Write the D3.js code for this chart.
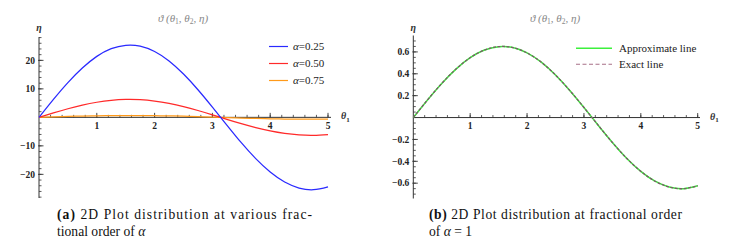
<!DOCTYPE html>
<html>
<head>
<meta charset="utf-8">
<script src="https://cdnjs.cloudflare.com/ajax/libs/d3/7.8.5/d3.min.js"></script>
<style>
  body { margin: 0; background: #fff; }
  svg { display: block; }
</style>
</head>
<body>
<div class="chart"></div>
<script>
var width = 740;
var height = 251;

/// Data
var theta = [0, 0.25, 0.5, 0.75, 1, 1.25, 1.5, 1.75, 2, 2.25, 2.5, 2.75, 3, 3.25, 3.5, 3.75, 4, 4.25, 4.5, 4.75, 5];
var alpha025 = [0, 6.3, 12.2, 17.3, 21.4, 24.1, 25.3, 25.0, 23.1, 19.8, 15.2, 9.7, 3.6, -2.7, -8.9, -14.5, -19.2, -22.7, -24.8, -25.4, -24.4];
var alpha050 = [0, 1.56, 3.02, 4.29, 5.30, 5.98, 6.28, 6.20, 5.73, 4.90, 3.77, 2.40, 0.89, -0.68, -2.21, -3.60, -4.77, -5.64, -6.16, -6.30, -6.04];
var alpha075 = [0, 0.16, 0.31, 0.44, 0.55, 0.62, 0.65, 0.64, 0.59, 0.51, 0.39, 0.25, 0.09, -0.07, -0.23, -0.37, -0.49, -0.58, -0.64, -0.65, -0.62];
var approx = [0, 0.161, 0.312, 0.443, 0.547, 0.617, 0.648, 0.640, 0.591, 0.506, 0.389, 0.248, 0.092, -0.070, -0.228, -0.372, -0.492, -0.582, -0.635, -0.650, -0.623];
var exact = [0, 0.161, 0.312, 0.443, 0.547, 0.617, 0.648, 0.640, 0.591, 0.506, 0.389, 0.248, 0.092, -0.070, -0.228, -0.372, -0.492, -0.582, -0.635, -0.650, -0.623];

var xTicks = [1, 2, 3, 4, 5];
var yTicksA = [-20, -10, 10, 20];
var yTicksB = [-0.6, -0.4, -0.2, 0.2, 0.4, 0.6];
var legendA = ['α=0.25', 'α=0.50', 'α=0.75'];
var legendB = ['Approximate line', 'Exact line'];

var blue = '#2a2aff';
var red = '#ff2a2a';
var orange = '#ff9a1a';
var green = '#3cf03c';
var mauve = '#a87088';
var dashCurve = '#7a5a68';
var axisColor = '#333';
var serif = '"Liberation Serif", "Times New Roman", serif';

var svg = d3.select('.chart')
  .append('svg')
  .attr('width', width)
  .attr('height', height);

/// Panels
var panelA = {
  x: d3.scaleLinear().domain([0, 5]).range([39, 328]),
  y: d3.scaleLinear().domain([-28.3, 28.2]).range([198, 37]),
  xEnd: 331,
  yTicks: yTicksA,
  yMinor: d3.range(-28, 28.01, 2),
  fmt: function(d){ return d < 0 ? '\u2212' + Math.abs(d) : d; },
  titleX: 183
};

var panelB = {
  x: d3.scaleLinear().domain([0, 5]).range([413.3, 697.7]),
  y: d3.scaleLinear().domain([-0.74, 0.75]).range([198.5, 35.5]),
  xEnd: 700,
  yTicks: yTicksB,
  yMinor: d3.range(-0.7, 0.701, 0.05),
  fmt: function(d){ return d < 0 ? '\u2212' + Math.abs(d).toFixed(1) : d.toFixed(1); },
  titleX: 555
};

function drawAxes(p) {
  var g = svg.append('g');
  var x0 = p.x(0), y0 = p.y(0);

  // axis lines
  g.append('line')
    .attr('x1', x0).attr('x2', p.xEnd)
    .attr('y1', y0).attr('y2', y0)
    .attr('stroke', axisColor).attr('stroke-width', 1);
  g.append('line')
    .attr('x1', x0).attr('x2', x0)
    .attr('y1', p.y.range()[1]).attr('y2', p.y.range()[0])
    .attr('stroke', axisColor).attr('stroke-width', 1);

  // x ticks
  g.selectAll('.xminor')
    .data(d3.range(0.2, 5.01, 0.2))
    .enter().append('line')
    .attr('x1', function(d){ return p.x(d); })
    .attr('x2', function(d){ return p.x(d); })
    .attr('y1', y0).attr('y2', y0 - 2.5)
    .attr('stroke', axisColor).attr('stroke-width', 0.8);
  g.selectAll('.xmajor')
    .data(xTicks)
    .enter().append('line')
    .attr('x1', function(d){ return p.x(d); })
    .attr('x2', function(d){ return p.x(d); })
    .attr('y1', y0).attr('y2', y0 - 4.5)
    .attr('stroke', axisColor).attr('stroke-width', 0.9);
  g.selectAll('.xlab')
    .data(xTicks)
    .enter().append('text')
    .attr('x', function(d){ return p.x(d); })
    .attr('y', y0 + 11.5)
    .attr('text-anchor', 'middle')
    .attr('font-family', serif)
    .attr('font-weight', 'bold')
    .attr('font-size', '9.5px')
    .attr('fill', '#222')
    .text(function(d){ return d; });

  // y ticks
  g.selectAll('.yminor')
    .data(p.yMinor)
    .enter().append('line')
    .attr('x1', x0).attr('x2', x0 + 2.5)
    .attr('y1', function(d){ return p.y(d); })
    .attr('y2', function(d){ return p.y(d); })
    .attr('stroke', axisColor).attr('stroke-width', 0.8);
  g.selectAll('.ymajor')
    .data(p.yTicks)
    .enter().append('line')
    .attr('x1', x0 - 1).attr('x2', x0 + 4.5)
    .attr('y1', function(d){ return p.y(d); })
    .attr('y2', function(d){ return p.y(d); })
    .attr('stroke', axisColor).attr('stroke-width', 0.9);
  g.selectAll('.ylab')
    .data(p.yTicks)
    .enter().append('text')
    .attr('x', x0 - 4)
    .attr('y', function(d){ return p.y(d) + 3.2; })
    .attr('text-anchor', 'end')
    .attr('font-family', serif)
    .attr('font-weight', 'bold')
    .attr('font-size', '9.5px')
    .attr('fill', '#222')
    .text(p.fmt);

  // axis names
  g.append('text')
    .attr('x', x0).attr('y', 31)
    .attr('text-anchor', 'middle')
    .attr('font-family', serif)
    .attr('font-style', 'italic')
    .attr('font-weight', 'bold')
    .attr('font-size', '10px')
    .attr('fill', '#333')
    .text('η');
  var th = g.append('text')
    .attr('x', p.xEnd + 10).attr('y', y0 + 2)
    .attr('font-family', serif)
    .attr('font-style', 'italic')
    .attr('font-weight', 'bold')
    .attr('font-size', '10px')
    .attr('fill', '#333');
  th.append('tspan').text('θ');
  th.append('tspan').attr('dy', 2.5).attr('font-size', '7px').attr('font-style', 'normal').text('1');

  // title
  var t = g.append('text')
    .attr('x', p.titleX).attr('y', 22)
    .attr('text-anchor', 'middle')
    .attr('font-family', serif)
    .attr('font-style', 'italic')
    .attr('font-size', '11px')
    .attr('fill', '#888');
  t.append('tspan').text('ϑ (θ');
  t.append('tspan').attr('dy', 2).attr('font-size', '7.5px').attr('font-style', 'normal').text('1');
  t.append('tspan').attr('dy', -2).text(', θ');
  t.append('tspan').attr('dy', 2).attr('font-size', '7.5px').attr('font-style', 'normal').text('2');
  t.append('tspan').attr('dy', -2).text(', η)');
}

drawAxes(panelA);
drawAxes(panelB);

/// Curves
function lineFor(p) {
  return d3.line()
    .x(function(d){ return p.x(d[0]); })
    .y(function(d){ return p.y(d[1]); })
    .curve(d3.curveNatural);
}

var seriesA = [
  {values: alpha075, color: orange},
  {values: alpha050, color: red},
  {values: alpha025, color: blue}
];

var lineA = lineFor(panelA);
svg.selectAll('.curveA')
  .data(seriesA)
  .enter().append('path')
  .attr('class', 'curveA')
  .attr('fill', 'none')
  .attr('stroke', function(d){ return d.color; })
  .attr('stroke-width', 1.25)
  .attr('d', function(d){ return lineA(d3.zip(theta, d.values)); });

var lineB = lineFor(panelB);
svg.append('path')
  .attr('fill', 'none')
  .attr('stroke', green)
  .attr('stroke-width', 1.5)
  .attr('d', lineB(d3.zip(theta, approx)));
svg.append('path')
  .attr('fill', 'none')
  .attr('stroke', dashCurve)
  .attr('stroke-width', 1.3)
  .attr('stroke-dasharray', '3,1.5')
  .attr('d', lineB(d3.zip(theta, exact)));

/// Legends
var legA = svg.append('g');
var colorsA = [blue, red, orange];
legendA.forEach(function(lbl, i) {
  var y = 46.5 + i * 17;
  legA.append('line')
    .attr('x1', 269).attr('x2', 288)
    .attr('y1', y).attr('y2', y)
    .attr('stroke', colorsA[i]).attr('stroke-width', 1.2);
  var tx = legA.append('text')
    .attr('x', 293).attr('y', y + 3.8)
    .attr('font-family', serif)
    .attr('font-size', '11px')
    .attr('fill', '#222');
  tx.append('tspan').attr('font-style', 'italic').text('α');
  tx.append('tspan').text(lbl.slice(1));
});

var legB = svg.append('g');
legendB.forEach(function(lbl, i) {
  var y = 48.3 + i * 16;
  legB.append('line')
    .attr('x1', 576).attr('x2', 612)
    .attr('y1', y).attr('y2', y)
    .attr('stroke', i === 0 ? green : mauve)
    .attr('stroke-width', i === 0 ? 1.4 : 1.1)
    .attr('stroke-dasharray', i === 0 ? null : '4,2.5');
  legB.append('text')
    .attr('x', 619).attr('y', y + 3.8)
    .attr('font-family', serif)
    .attr('font-size', '11px')
    .attr('fill', '#222')
    .text(lbl);
});

/// Captions
function caption(x, lines) {
  lines.forEach(function(parts, i) {
    var t = svg.append('text')
      .attr('x', x)
      .attr('y', 219 + i * 17)
      .attr('font-family', serif)
      .attr('font-size', '13.6px')
      .attr('fill', '#111');
    if (parts.fit) t.attr('textLength', parts.fit).attr('lengthAdjust', 'spacing');
    parts.segs.forEach(function(s) {
      var ts = t.append('tspan').text(s[0]);
      if (s[1] === 'b') ts.attr('font-weight', 'bold');
      if (s[1] === 'i') ts.attr('font-style', 'italic');
    });
  });
}

caption(57, [
  {segs: [['(a)', 'b'], [' 2D Plot distribution at various frac-', '']], fit: 255},
  {segs: [['tional order of ', ''], ['α', 'i']]}
]);
caption(429, [
  {segs: [['(b)', 'b'], [' 2D Plot distribution at fractional order', '']], fit: 253},
  {segs: [['of ', ''], ['α', 'i'], [' = 1', '']]}
]);
</script>
</body>
</html>
